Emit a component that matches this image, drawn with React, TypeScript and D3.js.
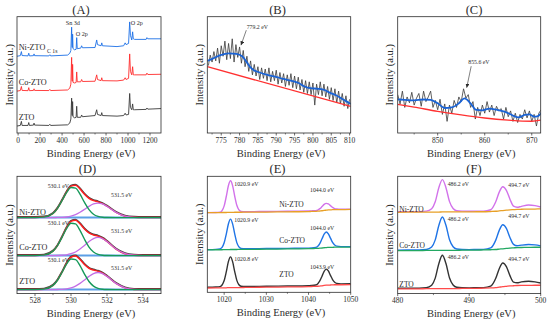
import React from 'react';
import * as d3 from 'd3';

// ---------- (A) survey spectra: [binding energy, intensity 0-100] ----------
const surveyNi: [number, number][] = [
  [-10, 66], [20, 66.5], [30, 70], [36, 66.6], [90, 66.3], [97, 68.6], [103, 66.3], [140, 66.5], [145, 68], [150, 66.5],
  [280, 66.3], [289, 67.3], [296, 66.3], [450, 67], [470, 68.5], [480, 71], [487, 91], [491, 75], [493, 73.5], [496, 85],
  [500, 72.5], [515, 71.5], [528, 72], [533, 82], [538, 72.5], [570, 73], [578, 75], [586, 73.3], [700, 73.5], [715, 80],
  [722, 76], [755, 75], [761, 77.5], [767, 75], [900, 74.3], [960, 75], [974, 77.5], [982, 76], [1005, 77], [1015, 95.5],
  [1022, 84], [1034, 80], [1042, 87], [1048, 81], [1060, 80.5], [1165, 80.5], [1172, 82], [1180, 81], [1300, 81],
];
const surveyCo: [number, number][] = [
  [-10, 36], [20, 36.5], [30, 40], [36, 36.6], [90, 36.4], [97, 39], [103, 36.4], [140, 36.6], [145, 38], [150, 36.6],
  [280, 36.5], [289, 37.5], [296, 36.5], [450, 37], [470, 38.5], [480, 42], [487, 65], [491, 46], [493, 44.5], [496, 59],
  [500, 43.5], [515, 43], [528, 43.5], [533, 52.5], [538, 44], [570, 44], [578, 46], [586, 44.3], [700, 44.5], [715, 50],
  [722, 46], [755, 45], [761, 47.5], [767, 45], [900, 44.8], [960, 45.5], [974, 47.5], [982, 46], [1005, 47], [1015, 68],
  [1022, 53], [1034, 50], [1042, 57], [1048, 50], [1060, 50], [1165, 50], [1172, 51.5], [1180, 50.3], [1300, 50.5],
];
const surveyZTO: [number, number][] = [
  [-10, 6], [20, 6.5], [30, 10], [36, 6.5], [90, 6.5], [97, 9], [103, 6.5], [140, 6.8], [145, 8.5], [150, 6.8],
  [280, 6.5], [289, 7.5], [296, 6.5], [450, 7], [470, 8.5], [480, 12], [487, 30], [491, 16], [493, 15], [496, 27],
  [500, 14], [515, 13], [528, 13.5], [533, 23], [538, 13.5], [570, 13.5], [578, 15.5], [586, 14], [700, 15], [715, 20],
  [722, 16], [755, 15], [761, 17.5], [767, 15], [900, 14.5], [960, 15], [974, 17], [982, 15.5], [1005, 16], [1015, 34],
  [1022, 22], [1034, 20], [1042, 25], [1048, 20], [1060, 20], [1165, 20.3], [1172, 21.5], [1180, 20.5], [1300, 21],
];

// ---------- (B) Co 2p ----------
const coRaw: [number, number][] = [
  [771.5, 58], [772, 67], [772.5, 61], [773, 70], [773.5, 62], [774, 73], [774.5, 60], [775, 75], [775.5, 66], [776, 79],
  [776.5, 63], [777, 77], [777.5, 64], [778, 81], [778.5, 61], [779, 76], [779.5, 65], [780, 74], [780.5, 60], [781, 71],
  [781.5, 57], [782, 66], [782.5, 53], [783, 62], [783.5, 50], [784, 59], [784.5, 49], [785, 57], [785.5, 46], [786, 56],
  [786.5, 47], [787, 55], [787.5, 45], [788, 56], [788.5, 44], [789, 53], [789.5, 45], [790, 54], [790.5, 42], [791, 52],
  [791.5, 43], [792, 51], [792.5, 40], [793, 50], [793.5, 41], [794, 51], [794.5, 39], [795, 49], [795.5, 38], [796, 48],
  [796.5, 37], [797, 46], [797.5, 35], [798, 45], [798.5, 34], [799, 44], [799.5, 33], [800, 43], [800.5, 24], [801, 42],
  [801.5, 33], [802, 44], [802.5, 32], [803, 42], [803.5, 31], [804, 40], [804.5, 29], [805, 39], [805.5, 28], [806, 38],
  [806.5, 26], [807, 36], [807.5, 25], [808, 34], [808.5, 23], [809, 32], [809.5, 21], [810, 29],
];
const coFit: [number, number][] = [
  [771.2, 62], [772.7, 64], [774.8, 67], [777, 68.5], [779.1, 68], [780.7, 66], [781.7, 62], [782.8, 57], [783.9, 54],
  [785.5, 52], [787.6, 50], [789.7, 48.5], [791.9, 46.5], [794, 45], [796.1, 43], [797.7, 40], [799.3, 38.5], [801.5, 38],
  [803.1, 37], [804.7, 34.5], [806.3, 32.5], [807.9, 29.5], [810.3, 25],
];
const coBg: [number, number][] = [[771.2, 57], [810.3, 22.8]];

// ---------- (C) Ni 2p ----------
const niRaw: [number, number][] = [
  [841.5, 33], [842, 25], [842.5, 36], [843, 22], [843.5, 31], [844, 26], [844.5, 35], [845, 24], [845.5, 30], [846, 34],
  [846.5, 23], [847, 36], [847.5, 27], [848, 31], [848.5, 36], [849, 22], [849.5, 28], [850, 20], [850.5, 29], [851, 16],
  [851.5, 25], [852, 10], [852.5, 24], [853, 17], [853.5, 28], [854, 22], [854.5, 31], [855, 27], [855.5, 38], [856, 30],
  [856.5, 33], [857, 22], [857.5, 27], [858, 12], [858.5, 22], [859, 15], [859.5, 24], [860, 17], [860.5, 27], [861, 18],
  [861.5, 24], [862, 15], [862.5, 23], [863, 19], [863.5, 21], [864, 12], [864.5, 22], [865, 14], [865.5, 19], [866, 10],
  [866.5, 17], [867, 9], [867.5, 16], [868, 12], [868.5, 20], [869, 13], [869.5, 19], [870, 10], [870.5, 16], [871, 6],
  [871.5, 17], [872, 20],
];
const niFit: [number, number][] = [
  [841.4, 29], [843, 28.5], [845, 28], [847, 28.8], [848.5, 28.5], [850, 25.5], [851.5, 21.5], [853, 22], [854.5, 25.5],
  [855.7, 29.8], [857, 25.5], [858.2, 19.8], [859.5, 19.5], [861, 21], [862.5, 20], [864.5, 18], [866, 15], [867.2, 13.5],
  [868.5, 15.5], [869.5, 16], [870.5, 14], [871.3, 14.5], [872.2, 18],
];
const niBg: [number, number][] = [
  [841.5, 24.7], [845, 22.3], [850, 18.6], [855, 15.5], [860, 12.9], [865, 11], [868, 10.2], [870, 10.1], [871.9, 11],
];

// ---------- (D) O 1s ----------
const dEnergy = [527, 528, 528.5, 529, 529.25, 529.5, 529.75, 530, 530.25, 530.5, 530.75, 531, 531.25, 531.5, 531.75, 532, 532.5, 533, 533.5, 534, 535];
const dBase = [64.8, 32.4, 3.4];
const dLattice = [
  [64.8, 64.8, 65.2, 68.3, 72.7, 79.2, 86.0, 90.4, 89.9, 84.8, 77.7, 71.6, 67.7, 65.8, 65.1, 64.9, 64.8, 64.8, 64.8, 64.8, 64.8],
  [32.4, 32.4, 32.8, 36.2, 40.9, 47.9, 55.3, 60.0, 59.4, 53.9, 46.3, 39.7, 35.5, 33.5, 32.7, 32.5, 32.4, 32.4, 32.4, 32.4, 32.4],
  [3.4, 3.4, 3.8, 7.0, 11.4, 18.0, 25.1, 29.5, 29.0, 23.8, 16.6, 10.3, 6.4, 4.4, 3.7, 3.5, 3.4, 3.4, 3.4, 3.4, 3.4],
];
const dVacancy = [
  [64.8, 64.8, 64.8, 64.8, 64.9, 65.0, 65.3, 66.0, 67.3, 69.3, 71.8, 74.4, 76.4, 77.2, 76.4, 74.4, 69.3, 66.0, 65.0, 64.8, 64.8],
  [32.4, 32.4, 32.4, 32.4, 32.5, 32.7, 33.1, 34.0, 35.5, 38.0, 41.1, 44.4, 46.9, 47.9, 46.9, 44.4, 38.0, 34.0, 32.7, 32.4, 32.4],
  [3.4, 3.4, 3.4, 3.4, 3.5, 3.6, 4.0, 4.9, 6.4, 8.7, 11.6, 14.7, 17.1, 18.0, 17.1, 14.7, 8.7, 4.9, 3.6, 3.4, 3.4],
];
const dEnvelope = [
  [64.8, 64.8, 65.2, 68.3, 72.8, 79.4, 86.5, 91.6, 92.4, 89.3, 84.7, 81.2, 79.3, 78.2, 76.7, 74.5, 69.3, 66.0, 65.0, 64.8, 64.8],
  [32.4, 32.4, 32.8, 36.2, 41.0, 48.2, 56.0, 61.6, 62.5, 59.5, 55.0, 51.7, 50.0, 49.0, 47.2, 44.5, 38.0, 34.0, 32.7, 32.4, 32.4],
  [3.4, 3.4, 3.8, 7.0, 11.5, 18.2, 25.7, 31.0, 32.0, 29.1, 24.8, 21.6, 20.1, 19.0, 17.4, 14.8, 8.7, 4.9, 3.6, 3.4, 3.4],
];

// ---------- (E) Zn 2p ----------
const eEnergy = [1016, 1018, 1019, 1019.5, 1020, 1020.5, 1021, 1021.5, 1022, 1022.5, 1023, 1023.5, 1024, 1025, 1030, 1035, 1040, 1040.7, 1041.7, 1042.2, 1042.7, 1043.2, 1043.7, 1044.2, 1044.7, 1045.2, 1045.7, 1046.2, 1046.7, 1047.7, 1050];
const eSpectra = [
  [68.7, 68.8, 69.1, 70.5, 74.5, 82.6, 91.9, 96.2, 92.0, 82.8, 75.0, 71.0, 69.7, 69.5, 69.7, 69.9, 70.1, 70.2, 70.4, 70.9, 72.1, 73.9, 75.8, 76.7, 76.2, 74.7, 73.2, 72.2, 71.9, 71.7, 71.7],
  [36.8, 37.0, 37.5, 38.8, 42.7, 50.2, 58.9, 63.1, 59.0, 50.3, 42.8, 39.1, 37.8, 37.5, 37.7, 37.9, 38.1, 38.2, 38.7, 39.8, 42.2, 46.1, 50.1, 52.0, 50.4, 46.7, 43.0, 40.8, 39.8, 39.4, 39.4],
  [4.4, 4.6, 4.9, 6.3, 10.1, 17.6, 26.4, 30.5, 26.4, 17.8, 10.3, 6.5, 5.2, 5.0, 5.2, 5.4, 5.7, 5.8, 6.3, 7.4, 10.0, 13.9, 18.1, 20.0, 18.4, 14.6, 11.0, 8.7, 7.7, 7.3, 7.4],
];
const eBackground = [
  [68.6, 68.7, 68.7, 68.8, 68.8, 68.8, 68.9, 68.9, 68.9, 69.0, 69.0, 69.0, 69.0, 69.1, 69.2, 69.4, 69.6, 69.7, 69.8, 69.9, 70.1, 70.3, 70.6, 70.8, 71.0, 71.1, 71.2, 71.2, 71.3, 71.3, 71.5],
  [36.6, 36.7, 36.7, 36.7, 36.8, 36.8, 36.8, 36.9, 36.9, 36.9, 36.9, 37.0, 37.0, 37.0, 37.2, 37.4, 37.6, 37.7, 37.8, 37.9, 38.0, 38.2, 38.4, 38.6, 38.7, 38.8, 38.8, 38.9, 38.9, 38.9, 38.9],
  [3.7, 3.8, 3.8, 3.9, 3.9, 3.9, 4.0, 4.0, 4.0, 4.1, 4.1, 4.1, 4.1, 4.2, 4.4, 4.6, 4.9, 5.0, 5.1, 5.2, 5.4, 5.6, 5.9, 6.1, 6.2, 6.3, 6.4, 6.5, 6.5, 6.5, 6.6],
];

// ---------- (F) Sn 3d ----------
const fEnergy = [480, 482, 483, 484, 484.75, 485.25, 485.75, 486.25, 486.75, 487.25, 487.75, 488.25, 489, 490, 491, 492, 493, 493.7, 494.2, 494.7, 495.2, 495.7, 496.2, 496.7, 497.3, 498.3, 499.2, 500];
const fSpectra = [
  [69.8, 69.9, 69.9, 70.3, 72.4, 78.3, 90.2, 97.2, 90.3, 78.4, 72.5, 70.6, 70.3, 70.2, 70.3, 70.3, 71.5, 78.1, 86.5, 91.1, 88.0, 80.5, 74.5, 73.6, 74.4, 75.5, 75.0, 73.8],
  [37.1, 37.2, 37.2, 37.6, 39.8, 45.8, 58.1, 65.3, 58.2, 45.9, 39.9, 38.0, 37.6, 37.5, 37.6, 37.7, 38.9, 45.4, 53.9, 58.7, 55.6, 47.8, 42.0, 40.8, 41.3, 41.8, 41.5, 40.7],
  [4.5, 4.6, 4.6, 5.0, 7.2, 13.2, 25.5, 32.7, 25.6, 13.3, 7.3, 5.4, 5.0, 4.9, 5.0, 5.1, 6.3, 12.8, 21.2, 26.1, 23.0, 15.3, 9.8, 9.2, 10.0, 10.5, 10.0, 9.0],
];
const fBackground = [
  [69.3, 69.4, 69.4, 69.5, 69.5, 69.5, 69.5, 69.6, 69.6, 69.6, 69.6, 69.6, 69.7, 69.7, 69.8, 69.8, 70.0, 70.2, 70.5, 70.8, 71.1, 71.4, 71.6, 71.8, 71.9, 72.0, 72.1, 72.2],
  [36.6, 36.7, 36.7, 36.8, 36.8, 36.8, 36.8, 36.9, 36.9, 36.9, 36.9, 36.9, 37.0, 37.0, 37.1, 37.2, 37.4, 37.6, 37.9, 38.2, 38.5, 38.8, 39.0, 39.2, 39.3, 39.4, 39.5, 39.5],
  [4.0, 4.1, 4.1, 4.2, 4.2, 4.2, 4.2, 4.3, 4.3, 4.3, 4.3, 4.3, 4.4, 4.4, 4.5, 4.6, 4.8, 5.1, 5.5, 5.9, 6.2, 6.5, 6.7, 6.9, 7.0, 7.0, 7.1, 7.1],
];

const samples = ['Ni-ZTO', 'Co-ZTO', 'ZTO'];
const eLabels1 = ['1020.9 eV', '1020.9 eV', '1020.8 eV'];
const eLabels2 = ['1044.0 eV', '1044.0 eV', '1043.9 eV'];

const FONT = 'Liberation Serif, Times New Roman, DejaVu Serif, serif';
const INK = '#2b2b2b';

type Scale = d3.ScaleLinear<number, number>;
type Frame = { x: number; y: number; w: number; h: number };

const zip = (xs: number[], ys: number[]): [number, number][] => xs.map((v, i) => [v, ys[i]]);

function Trace({ data, x, y, color, width, clip, smooth, dy = 0 }: {
  data: [number, number][]; x: Scale; y: Scale; color: string; width: number; clip: string; smooth?: boolean; dy?: number;
}) {
  const line = d3.line<[number, number]>()
    .x(d => x(d[0]))
    .y(d => y(d[1]) + dy)
    .curve(smooth ? d3.curveMonotoneX : d3.curveLinear);
  return <path d={line(data) || ''} fill="none" stroke={color} strokeWidth={width} strokeLinejoin="round" clipPath={`url(#${clip})`} />;
}

const Txt = (props: React.SVGProps<SVGTextElement>) => <text fontFamily={FONT} fill={INK} {...props} />;

function Panel({ id, frame, domain, ticks, minor, title, titleX, children }: {
  id: string; frame: Frame; domain: [number, number]; ticks: number[]; minor: number[];
  title: string; titleX: number; children: (x: Scale, y: Scale, clip: string) => React.ReactNode;
}) {
  const f = frame;
  const x = d3.scaleLinear().domain(domain).range([f.x, f.x + f.w]);
  const y = d3.scaleLinear().domain([0, 100]).range([f.y + f.h, f.y]);
  const clip = 'clip-' + id;
  const bottom = f.y + f.h;
  return (
    <g>
      <defs>
        <clipPath id={clip}><rect x={f.x} y={f.y} width={f.w} height={f.h} /></clipPath>
      </defs>
      {children(x, y, clip)}
      <rect x={f.x} y={f.y} width={f.w} height={f.h} fill="none" stroke={INK} strokeWidth={0.8} />
      {ticks.map(t => (
        <g key={'t' + t}>
          <line x1={x(t)} x2={x(t)} y1={bottom} y2={bottom + 2.5} stroke={INK} strokeWidth={0.7} />
          <Txt x={x(t)} y={bottom + 9.5} fontSize={7.5} textAnchor="middle">{t}</Txt>
        </g>
      ))}
      {minor.map(t => (
        <line key={'m' + t} x1={x(t)} x2={x(t)} y1={bottom} y2={bottom + 1.5} stroke={INK} strokeWidth={0.6} />
      ))}
      <Txt x={f.x + f.w / 2 + 2} y={bottom + 23.5} fontSize={10.5} textAnchor="middle">Binding Energy (eV)</Txt>
      <Txt transform={`translate(${f.x - 4.5},${f.y + f.h / 2}) rotate(-90)`} fontSize={10.5} textAnchor="middle">Intensity (a.u.)</Txt>
      <Txt x={titleX} y={f.y - 3} fontSize={12.5} textAnchor="middle">{title}</Txt>
    </g>
  );
}

const Note = ({ x, y, children, size = 5.8 }: { x: number; y: number; children: React.ReactNode; size?: number }) => (
  <Txt x={x} y={y} fontSize={size}>{children}</Txt>
);

export default function App() {
  const top = 16.7, rowH = 116.3, bTop = 176.3, bH = 117.3;
  const c1 = { x: 17, w: 144 }, c2 = { x: 207.3, w: 143.4 }, c3 = { x: 397.7, w: 143 };
  const peakColors = ['#d272ea', '#1f74e6', '#333333'];
  const bgColors = ['#e8a026', '#22a862', '#ff4a4a'];

  return (
    <svg width={550} height={324} viewBox="0 0 550 324" fontFamily={FONT}
      style={{ position: 'absolute', left: 0, top: 0, background: '#fff' }}>
      <defs>
        <marker id="arrow" viewBox="0 0 6 6" refX={6} refY={3} markerWidth={4} markerHeight={4} orient="auto" markerUnits="userSpaceOnUse">
          <path d="M0,0 L6,3 L0,6 z" fill={INK} />
        </marker>
      </defs>

      {/* (A) survey */}
      <Panel id="a" frame={{ x: c1.x, y: top, w: c1.w, h: rowH }} domain={[-10, 1300]}
        ticks={[0, 200, 400, 600, 800, 1000, 1200]} minor={[100, 300, 500, 700, 900, 1100]}
        title="(A)" titleX={81}>
        {(x, y, clip) => (
          <g>
            <Trace data={surveyZTO} x={x} y={y} color="#3a3a3a" width={0.9} clip={clip} />
            <Trace data={surveyCo} x={x} y={y} color="#ff2b2b" width={0.9} clip={clip} />
            <Trace data={surveyNi} x={x} y={y} color="#1c6fe6" width={0.9} clip={clip} />
            <Note x={c1.x + 48.7} y={top + 8} size={6.2}>Sn 3d</Note>
            <Note x={c1.x + 58.7} y={top + 19} size={6.2}>O 2p</Note>
            <Note x={c1.x + 113.7} y={top + 8} size={6.2}>O 2p</Note>
            <Note x={c1.x + 30} y={top + 36} size={5.8}>C 1s</Note>
            <Note x={c1.x + 1.7} y={top + 33} size={8.2}>{samples[0]}</Note>
            <Note x={c1.x + 1.7} y={top + 68} size={8.2}>{samples[1]}</Note>
            <Note x={c1.x + 1.7} y={top + 103} size={8.2}>{samples[2]}</Note>
          </g>
        )}
      </Panel>

      {/* (B) Co 2p */}
      <Panel id="b" frame={{ x: c2.x, y: top, w: c2.w, h: rowH }} domain={[771.2, 810.3]}
        ticks={[775, 780, 785, 790, 795, 800, 805, 810]} minor={[772.5, 777.5, 782.5, 787.5, 792.5, 797.5, 802.5, 807.5]}
        title="(B)" titleX={277.5}>
        {(x, y, clip) => (
          <g>
            <Trace data={coRaw} x={x} y={y} color="#3a3a3a" width={0.8} clip={clip} />
            <Trace data={coBg} x={x} y={y} color="#ff3030" width={1.3} clip={clip} />
            <Trace data={coFit} x={x} y={y} color="#1a63d6" width={1.8} clip={clip} smooth />
            <Note x={c2.x + 39.4} y={top + 11.8}>779.2 eV</Note>
            <line x1={c2.x + 39} y1={top + 13.5} x2={c2.x + 33.7} y2={top + 28.5} stroke={INK} strokeWidth={0.6} markerEnd="url(#arrow)" />
          </g>
        )}
      </Panel>

      {/* (C) Ni 2p */}
      <Panel id="c" frame={{ x: c3.x, y: top, w: c3.w, h: rowH }} domain={[841.5, 871.9]}
        ticks={[850, 860, 870]} minor={[845, 855, 865]}
        title="(C)" titleX={474}>
        {(x, y, clip) => (
          <g>
            <Trace data={niRaw} x={x} y={y} color="#3a3a3a" width={0.8} clip={clip} />
            <Trace data={niBg} x={x} y={y} color="#ff3030" width={1.3} clip={clip} smooth />
            <Trace data={niFit} x={x} y={y} color="#1a63d6" width={1.8} clip={clip} smooth />
            <Note x={c3.x + 70.6} y={top + 47.5}>855.6 eV</Note>
            <line x1={c3.x + 73.5} y1={top + 49.5} x2={c3.x + 69} y2={top + 71} stroke={INK} strokeWidth={0.6} markerEnd="url(#arrow)" />
          </g>
        )}
      </Panel>

      {/* (D) O 1s */}
      <Panel id="d" frame={{ x: c1.x, y: bTop, w: c1.w, h: bH }} domain={[527, 535]}
        ticks={[528, 530, 532, 534]} minor={[529, 531, 533]}
        title="(D)" titleX={87.5}>
        {(x, y, clip) => (
          <g>
            {dBase.map((b, i) => (
              <g key={i}>
                <Trace data={[[527, b], [535, b]]} x={x} y={y} color="#5c9fe6" width={2} clip={clip} />
                <Trace data={zip(dEnergy, dEnvelope[i])} x={x} y={y} color="#444" width={1.6} clip={clip} smooth dy={-0.7} />
                <Trace data={zip(dEnergy, dEnvelope[i])} x={x} y={y} color="#ff1f1f" width={1.5} clip={clip} smooth />
                <Trace data={zip(dEnergy, dVacancy[i])} x={x} y={y} color="#c46ee6" width={1.3} clip={clip} smooth />
                <Trace data={zip(dEnergy, dLattice[i])} x={x} y={y} color="#16995a" width={1.4} clip={clip} smooth />
              </g>
            ))}
            {[0, 1, 2].map(i => (
              <g key={'dl' + i}>
                <Note x={c1.x + 30.7} y={bTop + 11.3 + i * 37.2}>530.1 eV</Note>
                <Note x={c1.x + 94} y={bTop + 20.7 + i * 36.3}>531.5 eV</Note>
                <Note x={c1.x + 2.3} y={bTop + 39 + i * 34.2} size={8.2}>{samples[i]}</Note>
              </g>
            ))}
          </g>
        )}
      </Panel>

      {/* (E) Zn 2p */}
      <Panel id="e" frame={{ x: c2.x, y: bTop, w: c2.w, h: bH - 1.3 }} domain={[1016, 1050]}
        ticks={[1020, 1030, 1040, 1050]} minor={[1025, 1035, 1045]}
        title="(E)" titleX={277.5}>
        {(x, y, clip) => (
          <g>
            {eSpectra.map((s, i) => (
              <g key={i}>
                <Trace data={zip(eEnergy, s)} x={x} y={y} color={peakColors[i]} width={1.4} clip={clip} smooth />
                <Trace data={zip(eEnergy, eBackground[i])} x={x} y={y} color={bgColors[i]} width={1.3} clip={clip} smooth />
              </g>
            ))}
            {[0, 1, 2].map(i => (
              <g key={'el' + i}>
                <Note x={c2.x + 27} y={bTop + [9.3, 46, 85][i]}>{eLabels1[i]}</Note>
                <Note x={c2.x + 102.7} y={bTop + [15.7, 54, 92.3][i]}>{eLabels2[i]}</Note>
                <Note x={c2.x + 72} y={bTop + [30.7, 66.7, 100.7][i]} size={7.5}>{samples[i]}</Note>
              </g>
            ))}
          </g>
        )}
      </Panel>

      {/* (F) Sn 3d */}
      <Panel id="f" frame={{ x: c3.x, y: bTop, w: c3.w, h: bH }} domain={[480, 500]}
        ticks={[480, 490, 500]} minor={[485, 495]}
        title="(F)" titleX={474}>
        {(x, y, clip) => (
          <g>
            {fSpectra.map((s, i) => (
              <g key={i}>
                <Trace data={zip(fEnergy, s)} x={x} y={y} color={peakColors[i]} width={1.4} clip={clip} smooth />
                <Trace data={zip(fEnergy, fBackground[i])} x={x} y={y} color={bgColors[i]} width={1.3} clip={clip} smooth />
              </g>
            ))}
            {[0, 1, 2].map(i => (
              <g key={'fl' + i}>
                <Note x={c3.x + 50} y={bTop + [9.2, 44.2, 82.8][i]}>486.2 eV</Note>
                <Note x={c3.x + 110.6} y={bTop + [10.2, 41.8, 84.2][i]}>494.7 eV</Note>
                <Note x={c3.x + 1.6} y={bTop + [35.2, 71.8, 110.2][i]} size={7.5}>{samples[i]}</Note>
              </g>
            ))}
          </g>
        )}
      </Panel>
    </svg>
  );
}
